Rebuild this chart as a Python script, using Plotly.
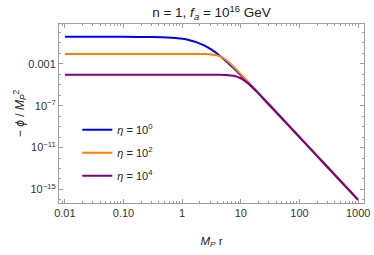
import plotly.graph_objects as go

# Data
r_vals = [0.01, 0.1, 0.316, 0.562, 1.0, 1.334, 1.778, 2.371, 3.162, 4.217, 5.623,
          7.499, 10.0, 13.34, 17.78, 23.71, 31.62, 56.23, 100.0, 316.2, 1000.0]
phi_eta0 = [0.380, 0.380, 0.363, 0.329, 0.246, 0.182, 0.114, 0.0573, 0.0226, 7.03e-3, 1.81e-3,
            4.06e-4, 8.26e-5, 1.59e-5, 2.97e-6, 5.41e-7, 9.77e-8, 3.13e-9, 9.93e-11, 1.0e-13, 1.0e-16]
phi_eta2 = [8.71e-3, 8.71e-3, 8.71e-3, 8.71e-3, 8.69e-3, 8.71e-3, 8.69e-3, 8.57e-3, 8.02e-3, 5.86e-3, 2.33e-3,
            5.31e-4, 9.93e-5, 1.78e-5, 3.18e-6, 5.65e-7, 1.00e-7, 3.16e-9, 1.0e-10, 1.0e-13, 1.0e-16]
phi_eta4 = [9.33e-5, 9.33e-5, 9.33e-5, 9.33e-5, 9.33e-5, 9.33e-5, 9.33e-5, 9.33e-5, 9.29e-5, 9.18e-5, 8.77e-5,
            7.33e-5, 4.21e-5, 1.36e-5, 2.95e-6, 5.53e-7, 9.95e-8, 3.16e-9, 1.0e-10, 1.0e-13, 1.0e-16]
series_names = ["<i>η</i> = 10<sup>0</sup>", "<i>η</i> = 10<sup>2</sup>", "<i>η</i> = 10<sup>4</sup>"]
series_colors = ["#0000ff", "#ff8000", "#800080"]

x_tickvals = [0.01, 0.1, 1, 10, 100, 1000]
x_ticktext = ["0.01", "0.10", "1", "10", "100", "1000"]
y_tickvals = [1e-3, 1e-7, 1e-11, 1e-15]
y_ticktext = ["0.001", "10<sup>−7</sup>", "10<sup>−11</sup>", "10<sup>−15</sup>"]

fig = go.Figure()
for name, ys, col in zip(series_names, [phi_eta0, phi_eta2, phi_eta4], series_colors):
    fig.add_trace(go.Scatter(
        x=r_vals, y=ys, mode="lines", name=name, legendgroup=name,
        line=dict(color=col, width=2, shape="spline", smoothing=0.6),
    ))

x_minor = [m * 10 ** e for e in range(-3, 4) for m in range(2, 10)]
y_minor = [10.0 ** e for e in range(-17, 1)]

FONT = "Liberation Sans, Arial, sans-serif"
axis_common = dict(
    showline=True, linecolor="#a0a0a0", linewidth=1, mirror="allticks",
    ticks="inside", tickcolor="#a0a0a0", ticklen=4, showgrid=False, zeroline=False,
    automargin=False, ticklabeloverflow="allow",
    tickfont=dict(size=11, color="#333333", family=FONT),
)

fig.update_layout(
    width=374, height=255,
    margin=dict(l=59, r=10, t=24, b=52),
    paper_bgcolor="white", plot_bgcolor="white",
    font=dict(family=FONT, color="#222222"),
    title=dict(text="n = 1, <i>f</i><sub><i>a</i></sub> = 10<sup>16</sup> GeV",
               x=0.5, xref="paper", xanchor="center", y=0.95, yanchor="middle",
               font=dict(size=13.5, color="#222222")),
    xaxis=dict(type="log", range=[-2.1, 3.1], tickvals=x_tickvals, ticktext=x_ticktext,
               minor=dict(tickvals=x_minor, ticks="inside", ticklen=2, tickcolor="#a0a0a0"),
               title=dict(text="<i>M</i><sub><i>P</i></sub> r", font=dict(size=11.5), standoff=18),
               **axis_common),
    yaxis=dict(type="log", range=[-16.3, 0.81], tickvals=y_tickvals, ticktext=y_ticktext,
               minor=dict(tickvals=y_minor, ticks="inside", ticklen=2, tickcolor="#a0a0a0"),
               title=dict(text="− <i>ϕ</i> / <i>M</i><sub><i>P</i></sub><sup>2</sup>", font=dict(size=12), standoff=1),
               **axis_common),
    legend=dict(x=0.06, y=0.49, xanchor="left", yanchor="top", bgcolor="rgba(0,0,0,0)",
                font=dict(size=11, color="#222222"), tracegroupgap=4),
    showlegend=True,
)

fig.write_html("out.html", config={"displayModeBar": False},
               post_script="document.body.style.margin='0';document.body.style.padding='0';")
